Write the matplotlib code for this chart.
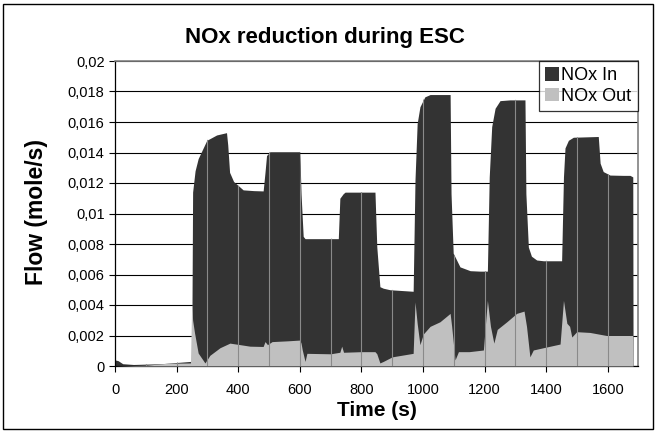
import numpy as np
import matplotlib
matplotlib.use('Agg')
import matplotlib.pyplot as plt
from matplotlib.patches import Patch, Rectangle
from matplotlib.ticker import FuncFormatter, MultipleLocator

plt.rcParams['font.family'] = ['Liberation Sans', 'DejaVu Sans']

# NOx In (mole/s)
time_in = [0, 10, 25, 60, 150, 245, 249, 252, 260, 270, 298, 330, 362, 366, 372,
           385, 416, 450, 481, 487, 492, 503, 600, 604, 611, 617, 725, 730, 741,
           747, 844, 850, 860, 871, 893, 968, 974, 981, 990, 1006, 1023, 1088,
           1091, 1098, 1120, 1153, 1185, 1209, 1215, 1223, 1234, 1250, 1282, 1331,
           1334, 1342, 1352, 1369, 1391, 1450, 1456, 1461, 1472, 1488, 1569, 1575,
           1585, 1607, 1650, 1672, 1681, 1682]
nox_in = [0.0004, 0.00035, 0.00015, 0.0001, 0.00015, 0.0003, 0.0003, 0.0114,
          0.0128, 0.0136, 0.0148, 0.01515, 0.0153, 0.0145, 0.0127, 0.0121,
          0.01155, 0.0115, 0.01148, 0.0127, 0.0138, 0.01405, 0.01405, 0.0113,
          0.0085, 0.00835, 0.00835, 0.011, 0.0113, 0.0114, 0.0114, 0.0078,
          0.0052, 0.0051, 0.005, 0.0049, 0.0122, 0.0159, 0.017, 0.01765, 0.0178,
          0.0178, 0.0113, 0.0074, 0.0065, 0.00625, 0.00622, 0.00622, 0.0124,
          0.0157, 0.0169, 0.0174, 0.01745, 0.01745, 0.0113, 0.0078, 0.0072,
          0.00695, 0.0069, 0.0069, 0.0124, 0.0143, 0.0148, 0.015, 0.01505,
          0.0133, 0.01275, 0.01252, 0.0125, 0.0125, 0.0124, 0.0]

# NOx Out (mole/s)
time_out = [0, 100, 170, 245, 249, 252, 258, 270, 292, 308, 341, 373, 406, 438,
            481, 487, 495, 510, 560, 600, 604, 608, 617, 623, 700, 730, 736, 742,
            800, 844, 850, 860, 871, 900, 968, 974, 981, 990, 1001, 1023, 1055,
            1088, 1093, 1104, 1115, 1150, 1196, 1209, 1219, 1230, 1241, 1272,
            1304, 1328, 1336, 1347, 1358, 1391, 1445, 1456, 1467, 1476, 1483,
            1499, 1542, 1596, 1677, 1681, 1682]
nox_out = [0.0, 0.00005, 0.00018, 0.0002, 0.0041, 0.003, 0.0022, 0.00085, 0.0002,
           0.0007, 0.0012, 0.0015, 0.0014, 0.0013, 0.00128, 0.0016, 0.0014,
           0.0016, 0.00165, 0.0017, 0.0015, 0.00105, 0.0003, 0.00083, 0.0008,
           0.0009, 0.0013, 0.0009, 0.00094, 0.00094, 0.0008, 0.0002, 0.0003,
           0.0006, 0.00083, 0.0042, 0.0028, 0.0014, 0.0021, 0.0026, 0.0029,
           0.00345, 0.0026, 0.0004, 0.00094, 0.00094, 0.00105, 0.0043, 0.0026,
           0.0015, 0.0024, 0.0029, 0.00345, 0.0036, 0.0026, 0.0006, 0.00105,
           0.0012, 0.00144, 0.0043, 0.0028, 0.0026, 0.0019, 0.00225, 0.0022,
           0.002, 0.002, 0.002, 0.0]

series_names = ['NOx In', 'NOx Out']
series_colors = ['#333333', '#c0c0c0']

fig = plt.figure(figsize=(6.56, 4.32), dpi=100)
ax = fig.add_axes([115 / 656, 66 / 432, 522.7 / 656, 305 / 432])

# grid behind the areas
ax.set_axisbelow(True)
ax.yaxis.grid(True, color='black', linewidth=0.8)

fill_in = ax.fill_between(time_in, nox_in, 0, color=series_colors[0],
                          linewidth=0, zorder=2)
ax.fill_between(time_out, nox_out, 0, color=series_colors[1],
                linewidth=0, zorder=3)

# faint vertical lines seen inside the area, clipped to NOx In
vl = ax.vlines(np.arange(100, 1700, 100), 0, 0.02, color='#8a8a8a',
               linewidth=0.8, zorder=4)
vl.set_clip_path(fill_in.get_paths()[0], ax.transData)

ax.set_xlim(0, 1697)
ax.set_ylim(0, 0.02)
ax.xaxis.set_major_locator(MultipleLocator(200))
ax.yaxis.set_major_locator(MultipleLocator(0.002))
ax.yaxis.set_major_formatter(FuncFormatter(
    lambda v, p: f'{v:g}'.replace('.', ',')))
ax.tick_params(axis='both', direction='out', length=4, width=0.8,
               labelsize=10.5, color='black')
ax.tick_params(axis='x', pad=8)

for s in ['left', 'bottom']:
    ax.spines[s].set_color('black')
    ax.spines[s].set_linewidth(0.9)
for s in ['top', 'right']:
    ax.spines[s].set_color('#808080')
    ax.spines[s].set_linewidth(1.2)

handles = [Patch(facecolor=c, edgecolor='none', label=n)
           for n, c in zip(series_names, series_colors)]
leg = ax.legend(handles=handles, loc='upper right', bbox_to_anchor=(1, 1),
                borderaxespad=0, fancybox=False, frameon=True, fontsize=13,
                handlelength=0.75, handleheight=0.75, handletextpad=0.15,
                borderpad=0.35, labelspacing=0.2)
leg.get_frame().set_edgecolor('black')
leg.get_frame().set_linewidth(0.9)
leg.set_zorder(10)

fig.text(325 / 656, 1 - 38 / 432, 'NOx reduction during ESC', ha='center',
         va='center', fontsize=16, fontweight='bold')
fig.text(377 / 656, 1 - 410 / 432, 'Time (s)', ha='center', va='center',
         fontsize=15, fontweight='bold')
fig.text(37 / 656, 1 - 212 / 432, 'Flow (mole/s)', ha='center', va='center',
         rotation=90, fontsize=16.5, fontweight='bold')

# outer chart border
fig.patches.append(Rectangle((3 / 656, 3 / 432), 650 / 656, 425 / 432,
                             transform=fig.transFigure, fill=False,
                             edgecolor='black', linewidth=1.0))

fig.savefig('out.png', dpi=100)
